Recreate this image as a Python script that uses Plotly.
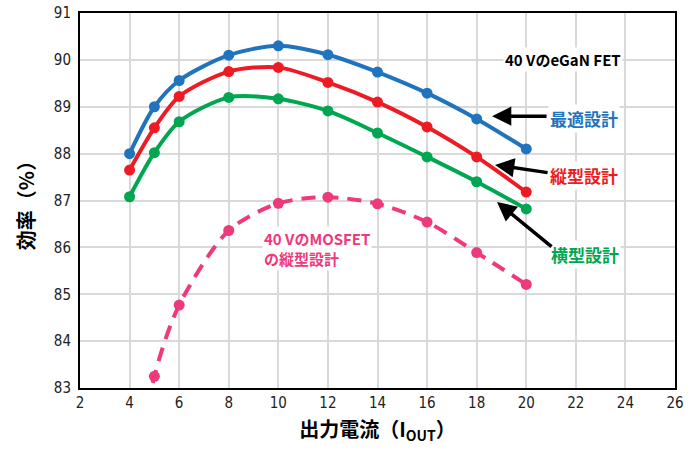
import plotly.graph_objects as go

x_main = [4, 5, 6, 8, 10, 12, 14, 16, 18, 20]
opt = [88.0, 89.0, 89.56, 90.1, 90.3, 90.11, 89.74, 89.29, 88.74, 88.1]
vert = [87.65, 88.55, 89.22, 89.75, 89.84, 89.52, 89.1, 88.57, 87.93, 87.18]
lat = [87.08, 88.02, 88.68, 89.2, 89.17, 88.91, 88.44, 87.93, 87.4, 86.82]

x_mos = [4, 5, 6, 8, 10, 12, 14, 16, 18, 20]
mos = [80.2, 83.25, 84.77, 86.36, 86.94, 87.07, 86.93, 86.54, 85.89, 85.21]

x_ticks = list(range(2, 27, 2))
y_ticks = list(range(83, 92))

BLUE = "#1f74bd"
RED = "#ed1c24"
GREEN = "#00a650"
PINK = "#ee3a7c"

fig = go.Figure()
for ys, c in [(opt, BLUE), (vert, RED), (lat, GREEN)]:
    fig.add_trace(go.Scatter(x=x_main, y=ys, mode="lines+markers",
                             line=dict(color=c, width=4, shape="spline", smoothing=0.8),
                             marker=dict(color=c, size=11), showlegend=False))
fig.add_trace(go.Scatter(x=x_mos, y=mos, mode="lines+markers",
                         line=dict(color=PINK, width=4, shape="spline", smoothing=0.8, dash="14px,9px"),
                         marker=dict(color=PINK, size=11), showlegend=False))

tick_font = dict(family="DejaVu Sans Condensed, Liberation Sans Narrow, sans-serif", size=15, color="#222")
jp = "Noto Sans CJK JP, sans-serif"

fig.update_xaxes(range=[2, 26], tickvals=x_ticks, showgrid=True, gridcolor="#d9d9d9", gridwidth=1.5,
                 showline=True, linecolor="black", linewidth=2, mirror=True, ticks="",
                 tickfont=tick_font, zeroline=False, automargin=False, ticklabeloverflow="allow",
                 title=dict(text="<b>出力電流（I<sub>OUT</sub>）</b>", font=dict(family=jp, size=20, color="black"), standoff=12))
fig.update_yaxes(range=[83, 91], tickvals=y_ticks, showgrid=True, gridcolor="#d9d9d9", gridwidth=1.5,
                 showline=True, linecolor="black", linewidth=2, mirror=True, ticks="",
                 tickfont=tick_font, zeroline=False, ticklabelstandoff=4, automargin=False,
                 ticklabeloverflow="allow",
                 title=dict(text="<b>効率（%）</b>", font=dict(family=jp, size=20, color="black"), standoff=14))

ann = []
ann.append(dict(x=21.48, y=90.0, text="<b>40 VのeGaN FET</b>", showarrow=False,
                font=dict(family=jp, size=15, color="black"), bgcolor="white", xref="x", yref="y"))
ann.append(dict(x=22.33, y=88.76, text="<b>最適設計</b>", showarrow=False,
                font=dict(family=jp, size=17, color=BLUE), bgcolor="white"))
ann.append(dict(x=22.33, y=87.54, text="<b>縦型設計</b>", showarrow=False,
                font=dict(family=jp, size=17, color=RED), bgcolor="white"))
ann.append(dict(x=22.37, y=85.84, text="<b>横型設計</b>", showarrow=False,
                font=dict(family=jp, size=17, color=GREEN), bgcolor="white"))
ann.append(dict(x=9.34, y=85.97, text="<b>40 VのMOSFET<br>の縦型設計</b>", showarrow=False,
                xanchor="left", align="left",
                font=dict(family=jp, size=15, color=PINK), bgcolor="white"))
for hx, hy, tx, ty in [(18.62, 88.80, 20.88, 88.80), (18.74, 87.76, 20.92, 87.59), (18.82, 86.97, 21.08, 85.99)]:
    ann.append(dict(x=hx, y=hy, ax=tx, ay=ty, axref="x", ayref="y", xref="x", yref="y", text="",
                    showarrow=True, arrowhead=2, arrowsize=1.1, arrowwidth=3.5, arrowcolor="black"))

fig.update_layout(width=695, height=451, margin=dict(l=80, r=20, t=13, b=63),
                  plot_bgcolor="white", paper_bgcolor="white", annotations=ann)
fig.write_html("out.html", config={"displayModeBar": False},
               post_script="document.body.style.margin='0';")
